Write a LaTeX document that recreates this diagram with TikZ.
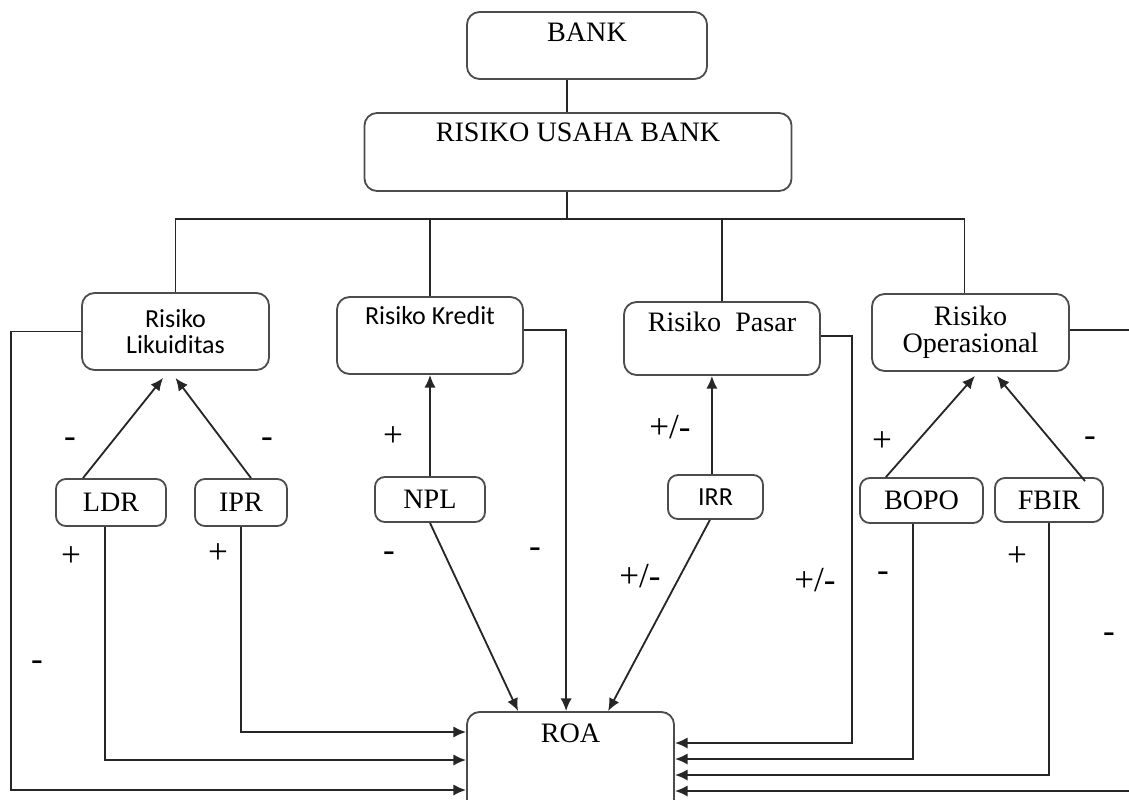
\documentclass[tikz,border=0pt]{standalone}
\usepackage{fontspec}
\setmainfont{Liberation Serif}
\setsansfont{Carlito}
\usetikzlibrary{arrows.meta}

\tikzset{
  box/.style={draw=black!70, line width=1.3pt, rounded corners=9pt, inner sep=0pt,
    align=center, font=\fontsize{20}{19.5}\selectfont},
  small/.style={box, rounded corners=7pt},
  sans/.style={font=\fontsize{18.5}{19}\selectfont\sffamily},
  sign/.style={inner sep=0pt, font=\fontsize{25}{25}\selectfont},
  link/.style={draw=black!85, line width=1.3pt},
  arr/.style={link, -{Latex[length=9pt,width=8pt]}},
}

\begin{document}
\begin{tikzpicture}[x=0.025cm,y=-0.025cm]
\useasboundingbox (0,0) rectangle (1129,800);
\draw (587,45.5) node[box, minimum width=6cm, text height=0.75cm, text depth=0.925cm] (bank) {BANK};
\draw (578,152) node[box, minimum width=10.675cm, text height=0.725cm, text depth=1.225cm] (rub) {RISIKO USAHA BANK};
\coordinate (bus) at (567,219);
\draw (175.5,331.5) node[box, sans, minimum width=4.675cm, minimum height=1.925cm] (liq) {Risiko\\Likuiditas};
\draw (430,335.5) node[box, sans, minimum width=4.65cm, text height=0.7cm, text depth=1.225cm] (kre) {Risiko Kredit};
\draw (722,338.5) node[box, minimum width=4.9cm, text height=0.75cm, text depth=1.075cm] (pas) {Risiko\ \ Pasar};
\draw (970.5,332.5) node[box, minimum width=4.925cm, minimum height=1.925cm] (ops) {Risiko\\Operasional};
\draw (111,502.5) node[small, minimum width=2.75cm, minimum height=1.175cm] (ldr) {LDR};
\draw (241,502.5) node[small, minimum width=2.3cm, minimum height=1.175cm] (ipr) {IPR};
\draw (430,499.5) node[small, minimum width=2.75cm, minimum height=1.125cm] (npl) {NPL};
\draw (715.5,497) node[small, sans, minimum width=2.375cm, minimum height=1.1cm] (irr) {IRR};
\draw (921.5,500.5) node[small, minimum width=3.075cm, minimum height=1.125cm] (bopo) {BOPO};
\draw (1049,500) node[small, minimum width=2.7cm, minimum height=1.1cm] (fbir) {FBIR};
\draw (570.5,763.5) node[box, minimum width=5.175cm, text height=0.75cm, text depth=1.825cm] (roa) {ROA};

\draw[link] (bank.south -| bus) -- (rub.north -| bus);
\draw[link] (rub.south -| bus) -- (bus);
\draw[link] (liq.north) -- (liq.north |- bus) -- ([xshift=-0.15cm]ops.north |- bus) -- ([xshift=-0.15cm]ops.north);
\draw[link] (kre.north) -- (kre.north |- bus);
\draw[link] (pas.north) -- (pas.north |- bus);

\draw[arr] ([xshift=-0.7cm]ldr.north) -- ([xshift=-0.31cm,yshift=-0.175cm]liq.south);
\draw[arr] ([xshift=0.25cm]ipr.north) -- ([yshift=-0.175cm]liq.south);
\draw[arr] (npl.north) -- (npl.north |- kre.south);
\draw[arr] ([xshift=-0.09cm]irr.north) -- ([xshift=-0.09cm]irr.north |- pas.south);
\draw[arr] ([xshift=-0.89cm]bopo.north) -- ([xshift=0.11cm,yshift=-0.1cm]ops.south);
\draw[arr] ([xshift=0.9cm,yshift=-0.1cm]fbir.north) -- ([xshift=0.66cm,yshift=-0.1cm]ops.south);

\coordinate (yl1) at (0,732);
\coordinate (yl2) at (0,760);
\coordinate (yl3) at (0,790);
\coordinate (yr1) at (0,743);
\coordinate (yr2) at (0,759);
\coordinate (yr3) at (0,775);
\coordinate (yr4) at (0,791);
\draw[arr] (liq.west) -- ++(-70,0) |- (roa.west |- yl3);
\draw[arr] ([xshift=-0.15cm]ldr.south) |- (roa.west |- yl2);
\draw[arr] (ipr.south) |- (roa.west |- yl1);
\draw[arr] (npl.south) -- ([xshift=-1.31cm]roa.north);
\draw[arr] ([yshift=0.14cm]kre.east) -| ([xshift=-0.11cm]roa.north);
\draw[arr] ([xshift=-0.14cm]irr.south) -- ([xshift=0.94cm]roa.north);
\draw[arr] ([yshift=0.06cm]pas.east) -- ++(31,0) |- (roa.east |- yr1);
\draw[arr] ([xshift=-0.21cm]bopo.south) |- (roa.east |- yr2);
\draw[arr] (fbir.south) |- (roa.east |- yr3);
\draw[arr] ([yshift=0.06cm]ops.east) -- ++(80,0) |- (roa.east |- yr4);

\draw (70,443) node[sign] (s1) {-};
\draw (267,443) node[sign] (s2) {-};
\draw (393,437) node[sign] (s3) {+};
\draw (670,427) node[sign] (s4) {+/-};
\draw (882,442) node[sign] (s5) {+};
\draw (1090,442) node[sign] (s6) {-};
\draw (71,557) node[sign] (s7) {+};
\draw (218,554) node[sign] (s8) {+};
\draw (37,666) node[sign] (s9) {-};
\draw (389,557) node[sign] (s10) {-};
\draw (535,553) node[sign] (s11) {-};
\draw (640,576) node[sign] (s12) {+/-};
\draw (815,580) node[sign] (s13) {+/-};
\draw (883,577) node[sign] (s14) {-};
\draw (1017,557) node[sign] (s15) {+};
\draw (1109,638) node[sign] (s16) {-};
\end{tikzpicture}
\end{document}
